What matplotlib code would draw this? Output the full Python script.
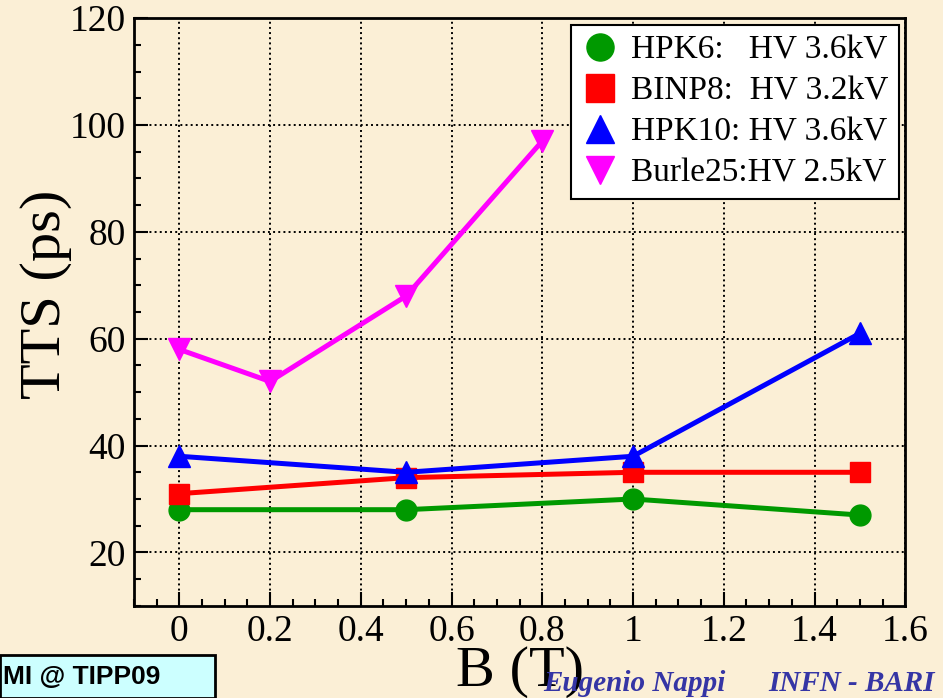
import matplotlib.pyplot as plt
from matplotlib.patches import Rectangle
from matplotlib.ticker import MultipleLocator

# TTS versus magnetic field for the four tubes
b_hpk6 = [0, 0.5, 1.0, 1.5]
tts_hpk6 = [28, 28, 30, 27]

b_binp8 = [0, 0.5, 1.0, 1.5]
tts_binp8 = [31, 34, 35, 35]

b_hpk10 = [0, 0.5, 1.0, 1.5]
tts_hpk10 = [38, 35, 38, 61]

b_burle25 = [0, 0.2, 0.5, 0.8]
tts_burle25 = [58, 52, 68, 97]

labels = ["HPK6:   HV 3.6kV", "BINP8:  HV 3.2kV",
          "HPK10: HV 3.6kV", "Burle25:HV 2.5kV"]

bg = "#fbefd6"
plt.rcParams["font.family"] = ["Liberation Serif", "DejaVu Serif"]

fig = plt.figure(figsize=(9.43, 6.98), dpi=100, facecolor=bg)
ax = fig.add_axes([0.142, 0.132, 0.818, 0.842], facecolor=bg)

ax.plot(b_hpk6, tts_hpk6, color="#009900", lw=3.6, marker="o", ms=15,
        label=labels[0], zorder=3)
ax.plot(b_binp8, tts_binp8, color="#ff0000", lw=3.6, marker="s", ms=15,
        label=labels[1], zorder=3)
ax.plot(b_hpk10, tts_hpk10, color="#0000ff", lw=3.6, marker="^", ms=16,
        label=labels[2], zorder=4)
ax.plot(b_burle25, tts_burle25, color="#ff00ff", lw=3.6, marker="v", ms=16,
        label=labels[3], zorder=3)

ax.set_xlim(-0.1, 1.6)
ax.set_ylim(10, 120)
ax.xaxis.set_minor_locator(MultipleLocator(0.05))
ax.yaxis.set_major_locator(MultipleLocator(20))
ax.yaxis.set_minor_locator(MultipleLocator(5))
ax.set_xticks([0, 0.2, 0.4, 0.6, 0.8, 1.0, 1.2, 1.4, 1.6])
ax.set_xticklabels(["0", "0.2", "0.4", "0.6", "0.8", "1", "1.2", "1.4", "1.6"])

ax.tick_params(which="major", direction="in", length=10, width=1.5,
               labelsize=27, pad=6)
ax.tick_params(which="minor", direction="in", length=5, width=1.5)
for s in ax.spines.values():
    s.set_linewidth(2)

ax.grid(True, which="major", color="black", linestyle=":", linewidth=1.4)
ax.set_axisbelow(True)

ax.set_ylabel("TTS (ps)", fontsize=42)
ax.yaxis.set_label_coords(-0.08, 0.53)
ax.set_xlabel("B (T)", fontsize=42, labelpad=-2)

leg = ax.legend(loc="upper right", fontsize=24, frameon=True, fancybox=False,
                edgecolor="black", framealpha=1, handlelength=1.1,
                handletextpad=0.4, borderpad=0.3, labelspacing=0.32,
                borderaxespad=0.2, markerscale=1.3)
leg.get_frame().set_linewidth(1.5)
for h in leg.legend_handles:
    h.set_linestyle("none")

# conference tag and author footer
fig.patches.append(Rectangle((0, 0), 215 / 943, 43 / 698, transform=fig.transFigure,
                             facecolor="#ccffff", edgecolor="black", lw=2,
                             zorder=5))
fig.text(3 / 943, 21 / 698, "MI @ TIPP09", fontsize=19, fontweight="bold",
         family=["Liberation Sans", "DejaVu Sans"], va="center", ha="left",
         zorder=6)
fig.text(543 / 943, 7 / 698, "Eugenio Nappi", fontsize=21, style="italic",
         fontweight="bold", color="#3535a5", va="baseline", ha="left",
         zorder=6)
fig.text(935 / 943, 7 / 698, "INFN - BARI", fontsize=21, style="italic",
         fontweight="bold", color="#3535a5", va="baseline", ha="right",
         zorder=6)

fig.savefig("out.png", dpi=100, facecolor=bg)
